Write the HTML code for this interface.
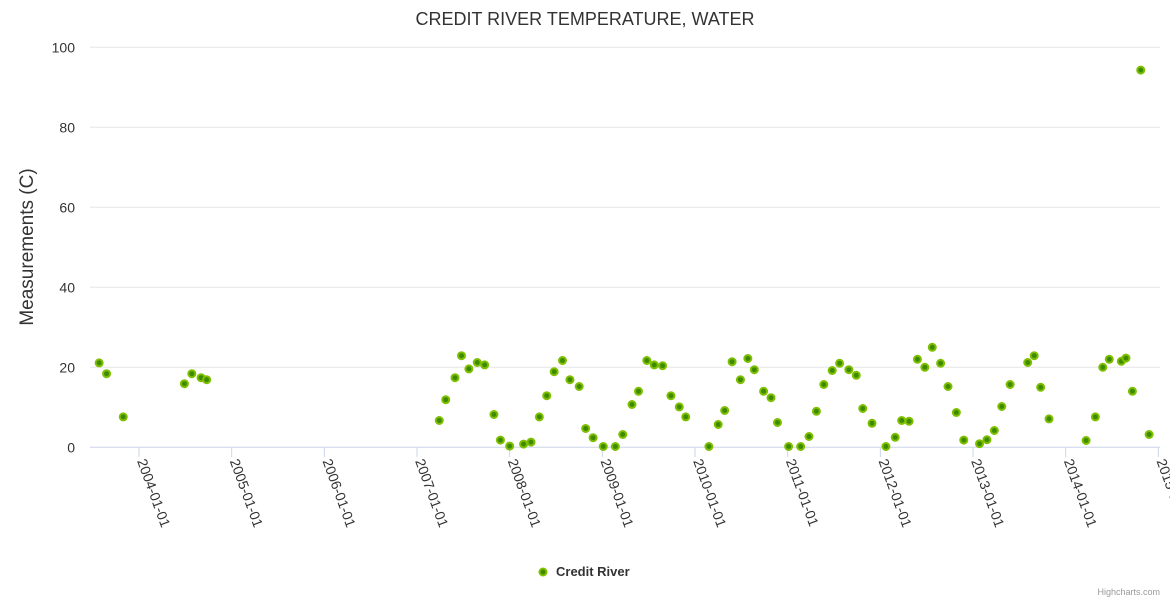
<!DOCTYPE html>
<html><head><meta charset="utf-8"><style>
body{margin:0;background:#fff;font-family:"Liberation Sans",sans-serif}
svg text{font-family:"Liberation Sans",sans-serif}
</style></head><body>
<svg id="chart" width="1170" height="600" xmlns="http://www.w3.org/2000/svg">
<rect width="1170" height="600" fill="#fff"/>
<text x="585" y="25" text-anchor="middle" font-size="18" fill="#333">CREDIT RIVER TEMPERATURE, WATER</text>
<text transform="translate(33,247) rotate(-90)" text-anchor="middle" font-size="19" fill="#333">Measurements (C)</text>
<g id="grid"></g><g id="xaxis"></g><g id="points"></g>
<g>
<circle cx="543" cy="572" r="3.5" fill="#3d8c00" stroke="#7fbf00" stroke-width="2"/>
<text x="556" y="576" font-size="13" font-weight="bold" fill="#333">Credit River</text></g>
<text x="1160" y="595" text-anchor="end" font-size="9" fill="#999">Highcharts.com</text>
</svg>
<script>
const dates=[2003.57,2003.65,2003.83,2004.49,2004.57,2004.67,2004.73,2007.24,2007.31,2007.41,2007.48,2007.56,2007.65,2007.73,2007.83,2007.90,2008.00,2008.15,2008.23,2008.32,2008.40,2008.48,2008.57,2008.65,2008.75,2008.82,2008.90,2009.01,2009.14,2009.22,2009.32,2009.39,2009.48,2009.56,2009.65,2009.74,2009.83,2009.90,2010.15,2010.25,2010.32,2010.40,2010.49,2010.57,2010.64,2010.74,2010.82,2010.89,2011.01,2011.14,2011.23,2011.31,2011.39,2011.48,2011.56,2011.66,2011.74,2011.81,2011.91,2012.06,2012.16,2012.23,2012.31,2012.40,2012.48,2012.56,2012.65,2012.73,2012.82,2012.90,2013.07,2013.15,2013.23,2013.31,2013.40,2013.59,2013.66,2013.73,2013.82,2014.22,2014.32,2014.40,2014.47,2014.60,2014.65,2014.72,2014.81,2014.90];
const values=[21.1,18.4,7.6,15.9,18.4,17.4,16.9,6.7,11.9,17.4,22.9,19.6,21.2,20.6,8.2,1.8,0.3,0.8,1.3,7.6,12.9,18.9,21.7,16.9,15.2,4.7,2.4,0.2,0.2,3.2,10.7,14.0,21.7,20.6,20.4,12.9,10.1,7.6,0.2,5.7,9.2,21.4,16.9,22.2,19.4,14.0,12.4,6.2,0.2,0.2,2.7,9.0,15.7,19.2,21.0,19.4,18.0,9.7,6.0,0.2,2.5,6.7,6.5,22.0,20.0,25.0,21.0,15.2,8.7,1.8,0.9,1.9,4.2,10.2,15.7,21.2,22.9,15.0,7.1,1.7,7.6,20.0,22.0,21.5,22.3,14.0,94.3,3.2];
const yTicks=[0,20,40,60,80,100];
const xTickYears=[2004,2005,2006,2007,2008,2009,2010,2011,2012,2013,2014,2015];
const xTickLabels=["2004-01-01","2005-01-01","2006-01-01","2007-01-01","2008-01-01","2009-01-01","2010-01-01","2011-01-01","2012-01-01","2013-01-01","2014-01-01","2015-01-01"];
const NS="http://www.w3.org/2000/svg";
const xS=t=>139+(t-2004)*92.67;
const yS=v=>447.3-v*4;
function mk(tag,attrs,parent){const e=document.createElementNS(NS,tag);for(const k in attrs)e.setAttribute(k,attrs[k]);parent.appendChild(e);return e;}
const grid=document.getElementById('grid');
yTicks.forEach(v=>{
  const l=mk('line',{x1:90,x2:1160,y1:yS(v),y2:yS(v),stroke:v===0?'#ccd6eb':'#e6e6e6','stroke-width':1},grid);
  
  
  const t=mk('text',{x:75,y:yS(v)+5,'text-anchor':'end','font-size':14,fill:'#333'},grid);
  t.textContent=v;
  
  
});
const xa=document.getElementById('xaxis');
xTickYears.forEach((y,i)=>{
  const x=xS(y);
  const tk=mk('line',{x1:x,x2:x,y1:447.3,y2:457,stroke:'#ccd6eb'},xa);
  
  
  const t=mk('text',{transform:`translate(${x-2},${461}) rotate(70)`,'font-size':14,fill:'#333'},xa);
  t.textContent=xTickLabels[i];
  
  
});
const pg=document.getElementById('points');
dates.forEach((d,i)=>{
  const c=mk('circle',{cx:xS(d),cy:yS(values[i]),r:3.5,fill:'#3d8c00',stroke:'#7fbf00','stroke-width':2},pg);
  
  
});
</script>
</body></html>
